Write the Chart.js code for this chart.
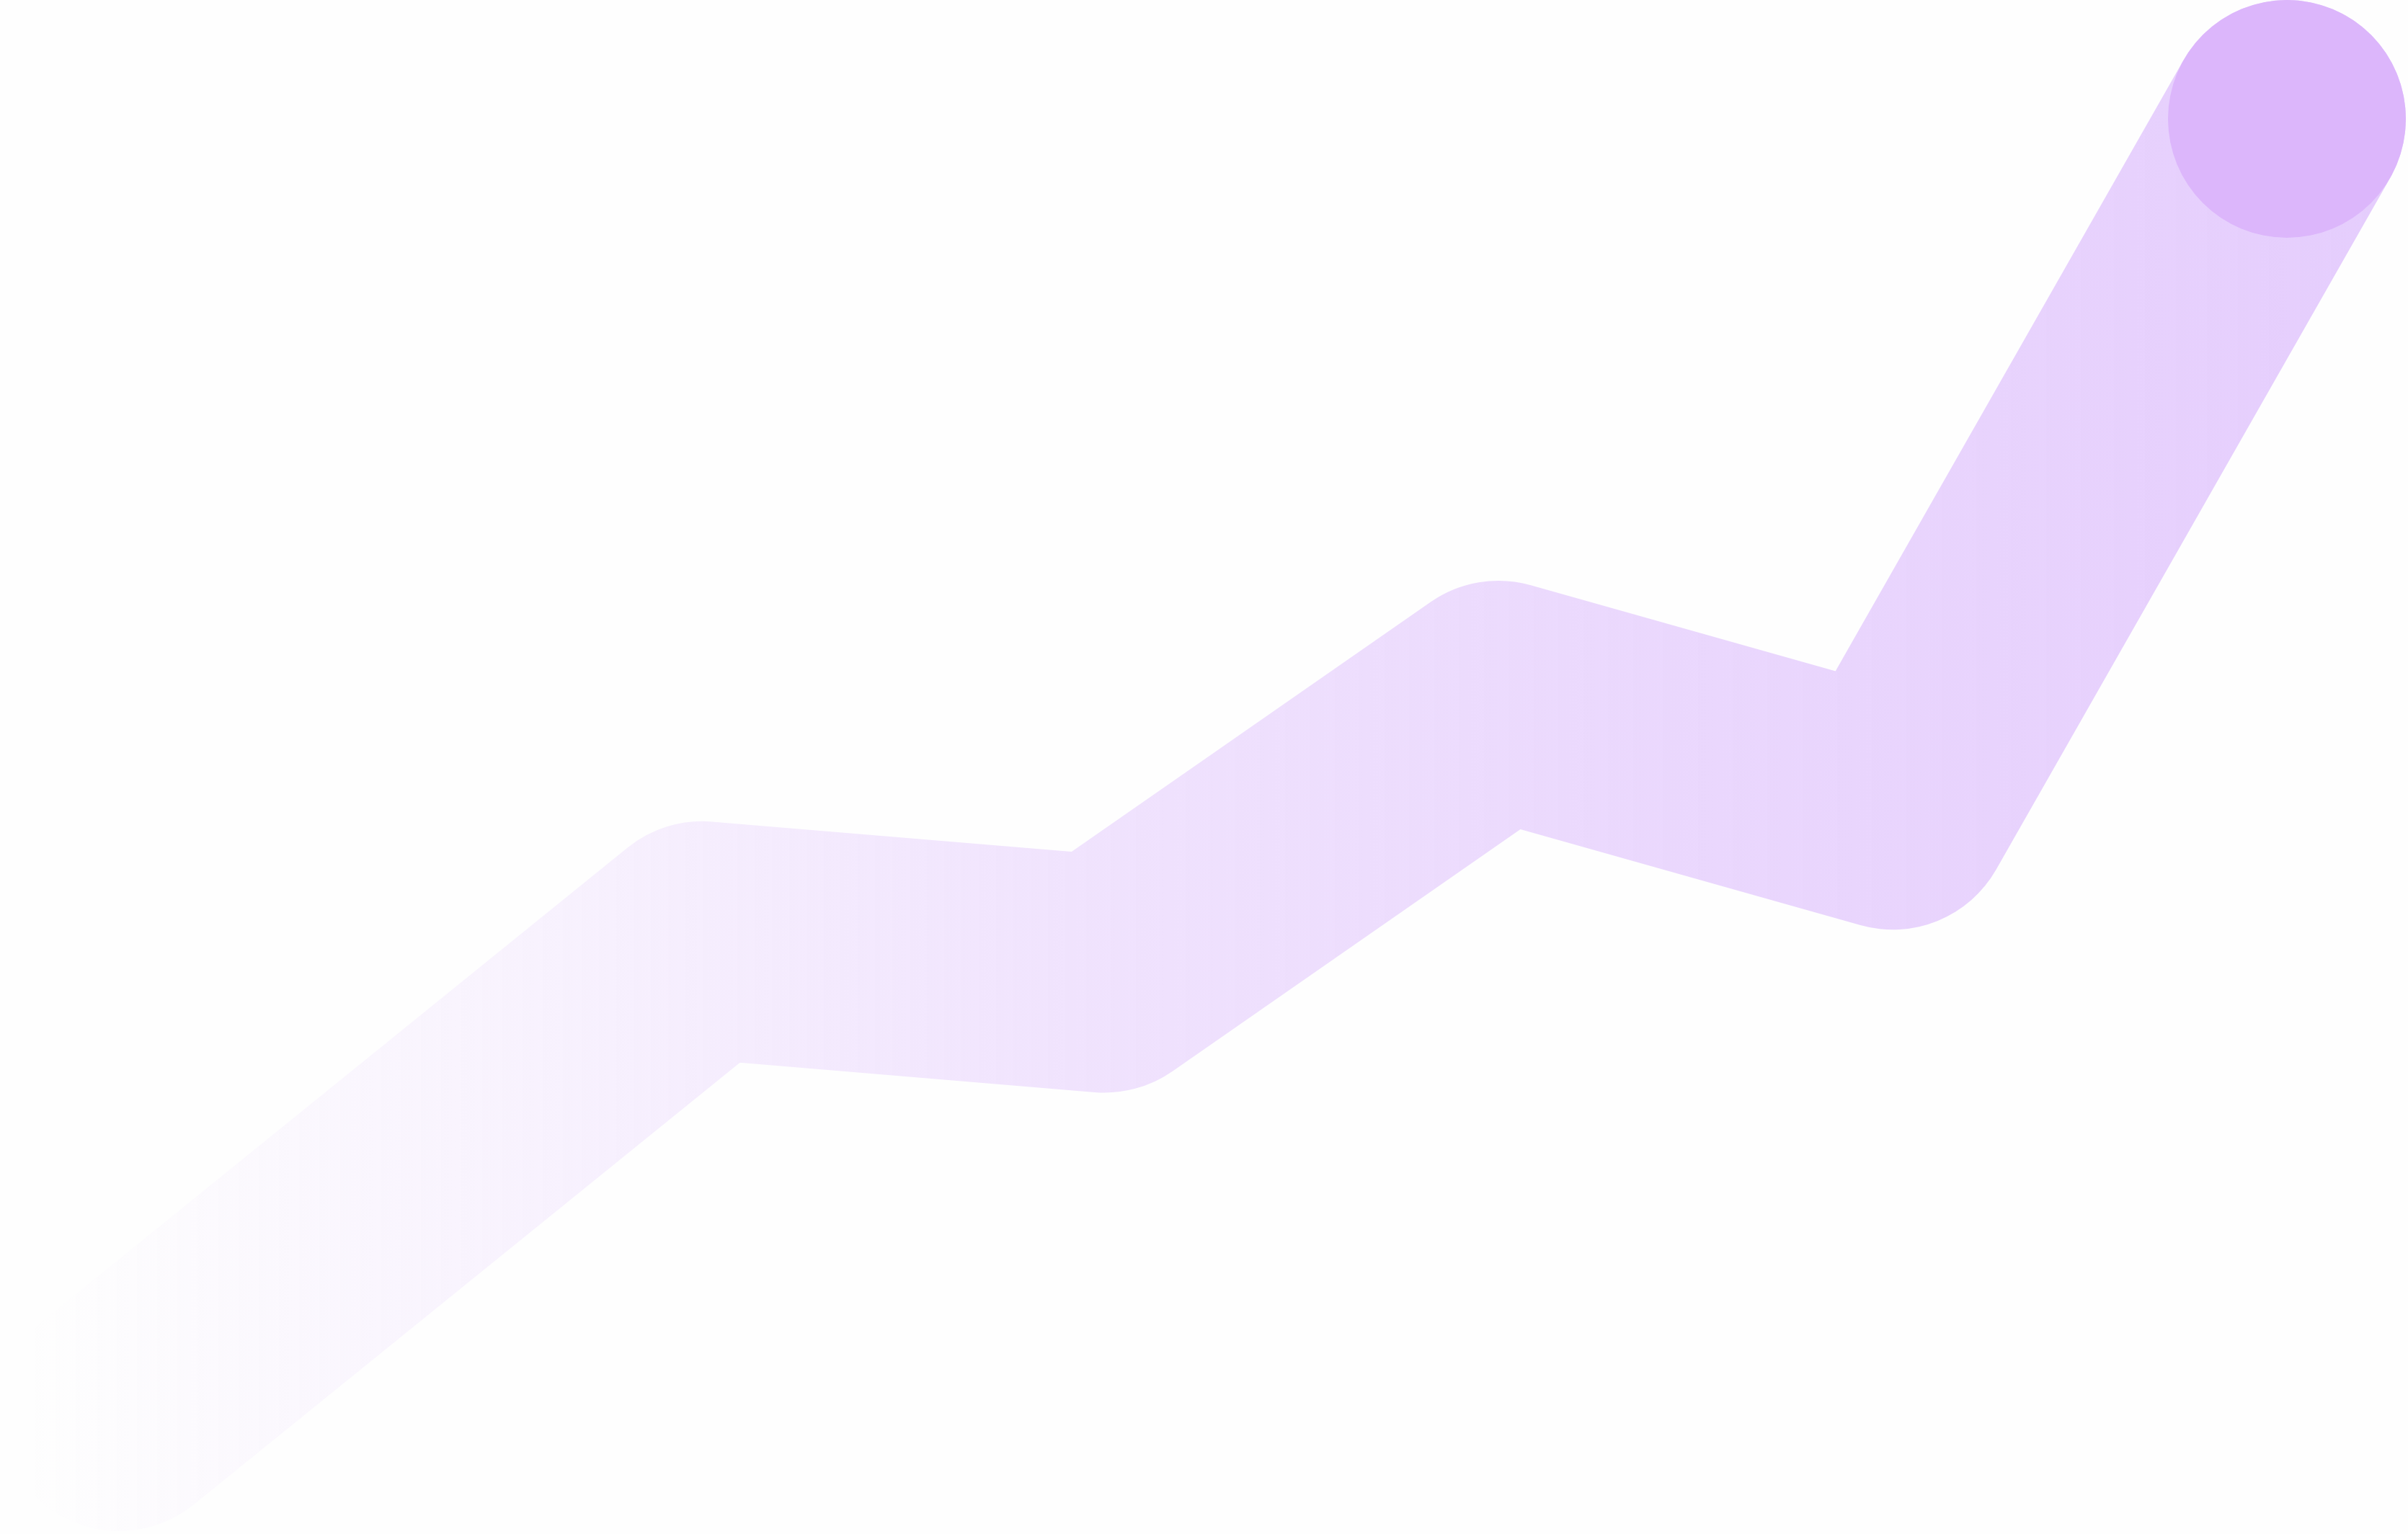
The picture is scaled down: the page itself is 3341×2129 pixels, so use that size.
<!DOCTYPE html>
<html>
<head>
<meta charset="utf-8">
<script src="https://cdn.jsdelivr.net/npm/chart.js@4/dist/chart.umd.min.js"></script>
<style>
  html, body { margin: 0; padding: 0; background: #fefefe; }
  #wrap { width: 3341px; height: 2129px; }
  canvas { display: block; }
</style>
</head>
<body>
<div id="wrap"><canvas id="c" width="3341" height="2129"></canvas></div>
<script>
// Data (no axes shown; relative units)
const xValues = [0, 1.48, 2.5, 3.5, 4.5, 5.5];
const yValues = [0, 36.5, 33.9, 55.1, 46.5, 100];
const pointSizes = [0, 0, 0, 0, 0, 165];

const points = xValues.map((x, i) => ({ x: x, y: yValues[i] }));

function strokeGradient(context) {
  const chart = context.chart;
  const ctx = chart.ctx;
  const w = chart.width;
  const g = ctx.createLinearGradient(35, 0, w, 0);
  g.addColorStop(0.00, 'rgba(192,132,252,0.00)');
  g.addColorStop(0.23, 'rgba(192,132,252,0.105)');
  g.addColorStop(0.44, 'rgba(192,132,252,0.22)');
  g.addColorStop(0.68, 'rgba(192,132,252,0.31)');
  g.addColorStop(0.87, 'rgba(192,132,252,0.36)');
  g.addColorStop(1.00, 'rgba(192,132,252,0.40)');
  return g;
}

new Chart(document.getElementById('c'), {
  type: 'line',
  data: {
    datasets: [{
      data: points,
      borderColor: strokeGradient,
      borderWidth: 330,
      borderCapStyle: 'round',
      borderJoinStyle: 'round',
      tension: 0,
      fill: false,
      pointRadius: pointSizes,
      pointHoverRadius: pointSizes,
      pointBackgroundColor: '#dcb6fb',
      pointBorderWidth: 0,
      clip: { left: 127, top: false, right: false, bottom: false }
    }]
  },
  options: {
    responsive: false,
    animation: false,
    events: [],
    layout: { padding: { left: 162, right: 168, top: 163, bottom: 169 } },
    plugins: { legend: { display: false }, tooltip: { enabled: false } },
    scales: {
      x: { type: 'linear', min: 0, max: 5.5, display: false },
      y: { type: 'linear', min: 0, max: 100, display: false }
    }
  }
});
</script>
</body>
</html>
